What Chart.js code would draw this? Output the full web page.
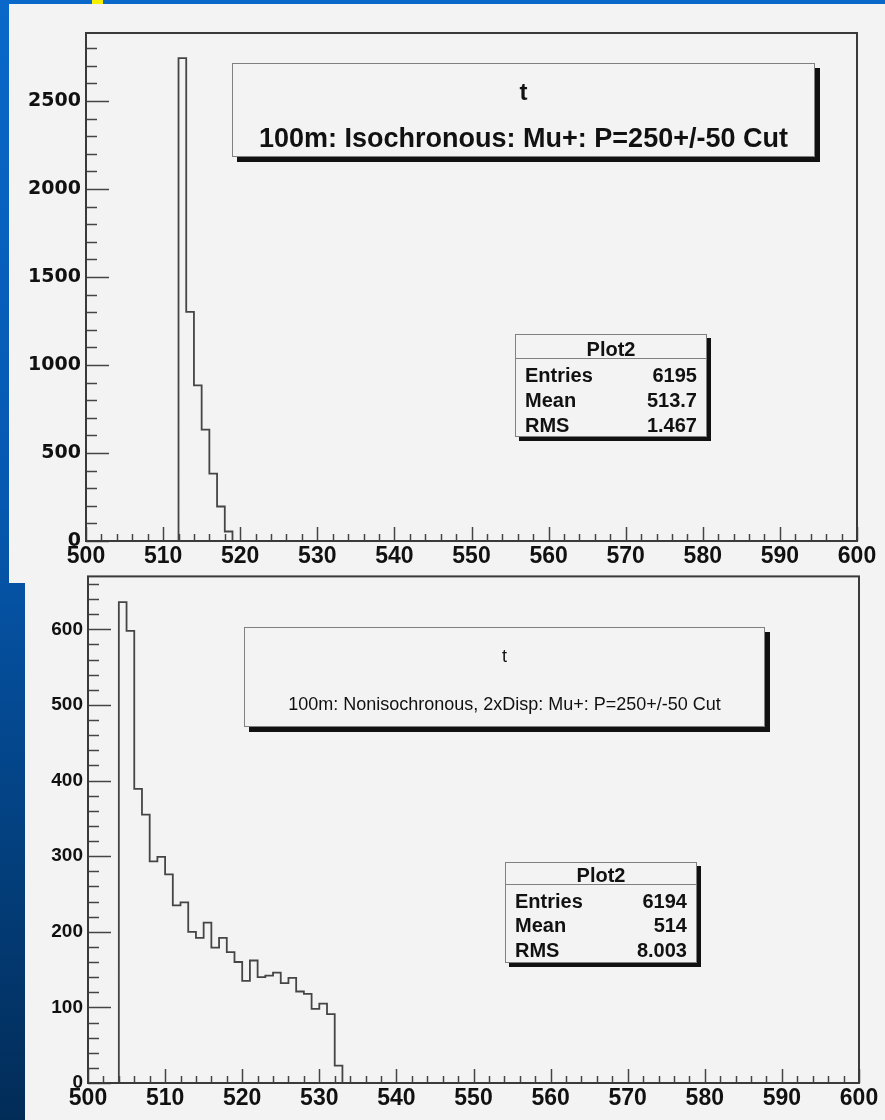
<!DOCTYPE html>
<html>
<head>
<meta charset="utf-8">
<script src="https://cdn.jsdelivr.net/npm/chart.js@4"></script>
<style>
  body {
    margin: 0;
    width: 885px;
    height: 1120px;
    position: relative;
    overflow: hidden;
    background: linear-gradient(to bottom, #0968c9 0%, #0658b0 45%, #03407f 75%, #022c58 100%);
    font-family: "Liberation Sans", Arial, sans-serif;
  }
  .panel { position: absolute; background: #f3f3f3; }
  canvas { position: absolute; left: 0; }
  .box {
    position: absolute;
    background: #f3f3f3;
    border: 1.5px solid #808080;
    box-shadow: 5px 5px 0 #111;
    color: #111;
  }
  .line { position: absolute; left: 0; right: 0; text-align: center; white-space: nowrap; }
  .stats .row { position: absolute; left: 9px; right: 9px; font-weight: bold; font-size: 20px; }
  .stats .row span:last-child { position: absolute; right: 0; }
  .stats .sep { position: absolute; left: 0; right: 0; border-top: 1.5px solid #808080; }
</style>
</head>
<body>
<div class="panel" style="left:9px; top:4px; width:876px; height:579px"></div>
<div class="panel" style="left:25px; top:565px; width:860px; height:555px"></div>
<div style="position:absolute; left:92px; top:0; width:11px; height:4px; background:#f4f000"></div>

<canvas id="topChart" width="885" height="582" style="top:0"></canvas>
<canvas id="bottomChart" width="885" height="560" style="top:560px"></canvas>

<div class="box" style="left:232px; top:63px; width:581px; height:92px">
  <div class="line" style="top:14px; font-size:24px; font-weight:bold">t</div>
  <div class="line" style="top:59px; font-size:27px; font-weight:bold">100m: Isochronous: Mu+: P=250+/-50 Cut</div>
</div>

<div class="box stats" style="left:515px; top:334px; width:190px; height:101px; box-shadow:4px 4px 0 #111">
  <div class="line" style="top:3px; font-size:20px; font-weight:bold">Plot2</div>
  <div class="sep" style="top:23px"></div>
  <div class="row" style="top:29px"><span>Entries</span><span id="tEntries"></span></div>
  <div class="row" style="top:54px"><span>Mean</span><span id="tMean"></span></div>
  <div class="row" style="top:79px"><span>RMS</span><span id="tRms"></span></div>
</div>

<div class="box" style="left:244px; top:627px; width:519px; height:98px">
  <div class="line" style="top:18px; font-size:18px">t</div>
  <div class="line" style="top:66px; font-size:18px">100m: Nonisochronous, 2xDisp: Mu+: P=250+/-50 Cut</div>
</div>

<div class="box stats" style="left:505px; top:862px; width:190px; height:99px; box-shadow:4px 4px 0 #111">
  <div class="line" style="top:1px; font-size:20px; font-weight:bold">Plot2</div>
  <div class="sep" style="top:21px"></div>
  <div class="row" style="top:27px"><span>Entries</span><span id="bEntries"></span></div>
  <div class="row" style="top:51px"><span>Mean</span><span id="bMean"></span></div>
  <div class="row" style="top:76px"><span>RMS</span><span id="bRms"></span></div>
</div>

<script>
// histogram contents, 1 unit bins starting at the given edge
const topBinStart = 512;
const topCounts = [2743, 1302, 884, 633, 383, 196, 54];
const bottomBinStart = 504;
const bottomCounts = [636, 598, 389, 355, 293, 299, 276, 235, 239, 200, 192, 212, 179, 192, 173,
                      160, 135, 162, 140, 142, 146, 132, 139, 121, 118, 98, 105, 91, 23];

const xTickLabels = [500, 510, 520, 530, 540, 550, 560, 570, 580, 590, 600];
const topYTicks = [0, 500, 1000, 1500, 2000, 2500];
const bottomYTicks = [0, 100, 200, 300, 400, 500, 600];
const topYMax = 2886;
const bottomYMax = 670;

const topStats = ["6195", "513.7", "1.467"];
const bottomStats = ["6194", "514", "8.003"];

document.getElementById("tEntries").textContent = topStats[0];
document.getElementById("tMean").textContent = topStats[1];
document.getElementById("tRms").textContent = topStats[2];
document.getElementById("bEntries").textContent = bottomStats[0];
document.getElementById("bMean").textContent = bottomStats[1];
document.getElementById("bRms").textContent = bottomStats[2];

function histPoints(start, counts) {
  const pts = [{ x: start, y: 0 }];
  counts.forEach((c, i) => pts.push({ x: start + i, y: c }));
  pts.push({ x: start + counts.length, y: 0 });
  return pts;
}

/* inward ROOT style tick marks + frame */
const rootFrame = {
  id: "rootFrame",
  afterDraw(chart, args, opts) {
    const ctx = chart.ctx;
    const a = chart.chartArea;
    const xs = chart.scales.x, ys = chart.scales.y;
    ctx.save();
    ctx.strokeStyle = "#444";
    ctx.lineWidth = 1.5;
    for (let v = xs.min; v <= xs.max + 1e-9; v += opts.xMinor) {
      const px = Math.round(xs.getPixelForValue(v)) + 0.5;
      const len = (Math.round(v) % opts.xMajor === 0) ? 14 : 7;
      ctx.beginPath();
      ctx.moveTo(px, a.bottom);
      ctx.lineTo(px, a.bottom - len);
      ctx.stroke();
    }
    for (let v = 0; v <= ys.max; v += opts.yMinor) {
      const py = Math.round(ys.getPixelForValue(v)) + 0.5;
      const len = (v % opts.yMajor === 0) ? 23 : 11;
      ctx.beginPath();
      ctx.moveTo(a.left, py);
      ctx.lineTo(a.left + len, py);
      ctx.stroke();
    }
    ctx.lineWidth = 2;
    ctx.strokeStyle = "#3a3a3a";
    ctx.strokeRect(a.left, a.top, a.right - a.left, a.bottom - a.top);
    ctx.restore();
  }
};

function makeHist(id, start, counts, yMax, yTicks, frame, yFont, tickOpts) {
  return new Chart(document.getElementById(id), {
    type: "line",
    data: {
      datasets: [{
        data: histPoints(start, counts),
        stepped: "before",
        borderColor: "#454545",
        borderWidth: 1.8,
        pointRadius: 0,
        fill: false
      }]
    },
    options: {
      responsive: false,
      animation: false,
      layout: { padding: { top: frame.top, right: frame.right, left: 0, bottom: 0 } },
      plugins: {
        legend: { display: false },
        tooltip: { enabled: false },
        rootFrame: tickOpts
      },
      scales: {
        x: {
          type: "linear",
          min: 500,
          max: 600,
          afterBuildTicks: s => { s.ticks = xTickLabels.map(v => ({ value: v })); },
          afterFit: s => { s.height = frame.xHeight; },
          grid: { display: false, drawTicks: false },
          border: { display: false },
          ticks: {
            padding: 2,
            color: "#111",
            maxRotation: 0,
            autoSkip: false,
            callback: v => String(v),
            font: { family: "Liberation Sans", weight: "bold", size: 23 }
          }
        },
        y: {
          min: 0,
          max: yMax,
          afterBuildTicks: s => { s.ticks = yTicks.map(v => ({ value: v })); },
          afterFit: s => { s.width = frame.left; },
          grid: { display: false, drawTicks: false },
          border: { display: false },
          ticks: { padding: 5, color: "#111", font: yFont, callback: v => String(v) }
        }
      }
    },
    plugins: [rootFrame]
  });
}

makeHist("topChart", topBinStart, topCounts, topYMax, topYTicks,
  { left: 86, top: 33, right: 28, xHeight: 41 },
  { family: "DejaVu Sans", weight: "bold", size: 19 },
  { xMinor: 2, xMajor: 10, yMinor: 100, yMajor: 500 });

makeHist("bottomChart", bottomBinStart, bottomCounts, bottomYMax, bottomYTicks,
  { left: 88, top: 14, right: 26, xHeight: 37 },
  { family: "Liberation Sans", weight: "bold", size: 19 },
  { xMinor: 2, xMajor: 10, yMinor: 20, yMajor: 100 });
</script>
</body>
</html>
